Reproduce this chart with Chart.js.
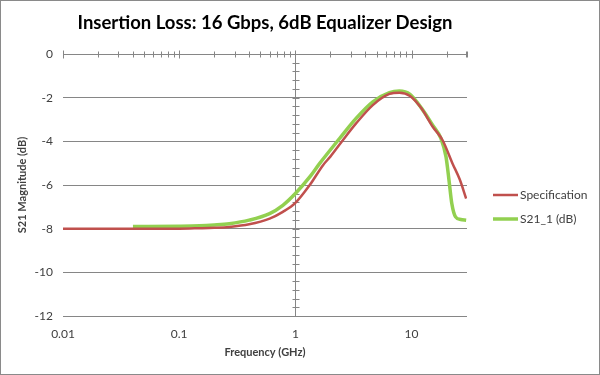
<!DOCTYPE html>
<html lang="en">
<head>
  <meta charset="UTF-8" />
  <title>Insertion Loss</title>
  <style>
    * { margin: 0; padding: 0; }
    body { background: #fff; }
    #myChart { display: block; }
  </style>
</head>
<body>
  <canvas id="myChart" width="600" height="375"></canvas>
  <script src="https://cdn.jsdelivr.net/npm/chart.js@4.4.1/dist/chart.umd.min.js"></script>
  <script>
    // frequency in GHz, magnitude in dB
    const specFreq = [0.01, 0.05, 0.1, 0.15, 0.2, 0.27, 0.4, 0.6, 0.78, 1.0, 1.33, 1.73, 2.0, 2.56, 3.33, 4.64, 6.45, 7.85, 9.7, 12.2, 15.2, 18.5, 22.5, 26, 29.5];
    const specVals = [-8, -8, -8, -7.98, -7.96, -7.92, -7.8, -7.54, -7.23, -6.82, -6.0, -5.09, -4.7, -3.95, -3.18, -2.34, -1.83, -1.77, -1.92, -2.5, -3.33, -3.95, -5.01, -5.75, -6.62];

    const s21Freq = [0.04, 0.1, 0.15, 0.2, 0.27, 0.4, 0.6, 0.78, 1.0, 1.33, 1.62, 2.4, 3.33, 4.64, 6.45, 7.85, 9.7, 12.2, 15.2, 17.9, 19.8, 21, 22.2, 23.9, 26.5, 29.5];
    const s21Vals = [-7.9, -7.89, -7.87, -7.83, -7.77, -7.61, -7.31, -6.93, -6.39, -5.63, -5.01, -3.87, -2.95, -2.19, -1.77, -1.7, -1.85, -2.49, -3.26, -3.87, -4.71, -5.78, -6.85, -7.46, -7.58, -7.61];

    const xTickVals = [0.01, 0.1, 1, 10];
    const seriesNames = ["Specification", "S21_1 (dB)"];

    const fontFamily = "Lato, 'Open Sans', sans-serif";
    const gridGrey = "#868686";

    const toPoints = (xs, ys) => xs.map((x, i) => ({ x: x, y: ys[i] }));

    // white background + thin frame
    const frame = {
      id: "frame",
      beforeDraw: (chart) => {
        const c = chart.ctx;
        c.save();
        c.fillStyle = "#fff";
        c.fillRect(0, 0, chart.width, chart.height);
        c.strokeStyle = "#8a8a8a";
        c.lineWidth = 1;
        c.strokeRect(0.5, 0.5, chart.width - 1, chart.height - 1);
        c.restore();
      }
    };

    // axis lines crossing at y=0 and x=1, with excel style tick marks
    const crossAxes = {
      id: "crossAxes",
      beforeDatasetsDraw: (chart) => {
        const c = chart.ctx;
        const xs = chart.scales.x;
        const ys = chart.scales.y;
        const area = chart.chartArea;
        const y0 = Math.round(ys.getPixelForValue(0)) + 0.5;
        const x1 = Math.round(xs.getPixelForValue(1)) + 0.5;
        c.save();
        c.strokeStyle = gridGrey;
        c.lineWidth = 1;
        c.beginPath();
        c.moveTo(area.left, y0);
        c.lineTo(area.right, y0);
        c.moveTo(x1, area.top);
        c.lineTo(x1, area.bottom);
        // log ticks on the horizontal axis
        for (let d = 0.01; d <= 10; d *= 10) {
          for (let m = 1; m <= 9; m++) {
            const v = d * m;
            if (v > xs.max * 1.0001) break;
            const px = Math.round(xs.getPixelForValue(v)) + 0.5;
            const h = m === 1 ? 4 : 3;
            c.moveTo(px, y0 - h);
            c.lineTo(px, y0 + h);
          }
        }
        const px = Math.round(xs.getPixelForValue(xs.max)) - 0.5;
        c.moveTo(px, y0 - 3);
        c.lineTo(px, y0 + 3);
        // minor ticks on the vertical axis
        for (let v = 0; v >= -12; v -= 0.4) {
          const py = Math.round(ys.getPixelForValue(v)) + 0.5;
          c.moveTo(x1 - 3, py);
          c.lineTo(x1 + 4, py);
        }
        c.stroke();
        c.restore();
      }
    };

    const sideLegend = {
      id: "sideLegend",
      afterDraw: (chart) => {
        const c = chart.ctx;
        const rows = [195, 219];
        c.save();
        c.font = "12px " + fontFamily;
        c.textBaseline = "middle";
        c.textAlign = "left";
        chart.data.datasets.forEach((ds, i) => {
          c.strokeStyle = ds.borderColor;
          c.lineWidth = ds.borderWidth;
          c.beginPath();
          c.moveTo(493, rows[i]);
          c.lineTo(518, rows[i]);
          c.stroke();
          c.fillStyle = "#404040";
          c.fillText(ds.label, 520, rows[i]);
        });
        c.restore();
      }
    };

    const data = {
      datasets: [
        {
          label: seriesNames[0],
          data: toPoints(specFreq, specVals),
          borderColor: "#C0504D",
          borderWidth: 2.5,
          pointRadius: 0,
          cubicInterpolationMode: "monotone",
          fill: false
        },
        {
          label: seriesNames[1],
          data: toPoints(s21Freq, s21Vals),
          borderColor: "#92D050",
          borderWidth: 3.5,
          pointRadius: 0,
          cubicInterpolationMode: "monotone",
          fill: false
        }
      ]
    };

    const options = {
      responsive: false,
      animation: false,
      layout: { padding: { left: 0, right: 133, top: 0, bottom: 0 } },
      plugins: {
        legend: { display: false },
        tooltip: { enabled: false },
        title: {
          display: true,
          fullSize: false,
          text: "Insertion Loss: 16 Gbps, 6dB Equalizer Design",
          color: "#000",
          font: { family: fontFamily, size: 18.5, weight: "bold", lineHeight: 1.2 },
          padding: { top: 12, bottom: 19.8 }
        }
      },
      scales: {
        x: {
          type: "logarithmic",
          min: 0.01,
          max: 30,
          grid: { display: false, drawTicks: false },
          border: { display: false },
          afterBuildTicks: (scale) => {
            scale.ticks = xTickVals.map(v => ({ value: v }));
          },
          afterFit: (scale) => { scale.height = 59; },
          ticks: {
            color: "#404040",
            padding: 11,
            maxRotation: 0,
            autoSkip: false,
            font: { family: fontFamily, size: 12 },
            callback: (v) => String(v)
          },
          title: {
            display: true,
            text: "Frequency (GHz)",
            color: "#404040",
            font: { family: fontFamily, size: 11, weight: "bold", lineHeight: 1.2 },
            padding: { top: 0, bottom: 16 }
          }
        },
        y: {
          min: -12,
          max: 0,
          grid: { color: gridGrey, drawTicks: false },
          border: { display: false },
          afterFit: (scale) => { scale.width = 63; },
          ticks: {
            stepSize: 2,
            color: "#404040",
            padding: 10,
            font: { family: fontFamily, size: 12 }
          },
          title: {
            display: true,
            text: "S21 Magnitude (dB)",
            color: "#404040",
            font: { family: fontFamily, size: 11, weight: "bold", lineHeight: 1.2 },
            padding: { top: 16, bottom: 0 }
          }
        }
      }
    };

    const ctx = document.getElementById("myChart").getContext("2d");
    const myChart = new Chart(ctx, {
      type: "line",
      data: data,
      options: options,
      plugins: [frame, crossAxes, sideLegend]
    });
  </script>
</body>
</html>
